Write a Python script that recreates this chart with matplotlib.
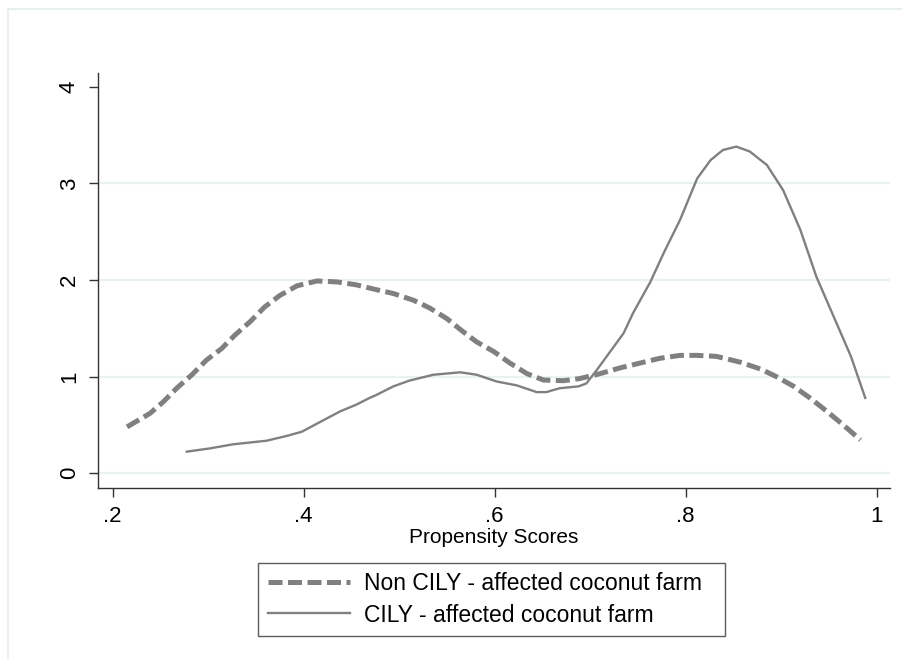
import matplotlib
matplotlib.use("Agg")
import matplotlib.pyplot as plt
from matplotlib.lines import Line2D

plt.rcParams['font.family'] = ['Liberation Sans', 'DejaVu Sans']

# Non CILY - affected coconut farm (dashed)
non_x = [0.215, 0.239, 0.253, 0.267, 0.283, 0.298, 0.314, 0.328, 0.344, 0.359, 0.375,
         0.393, 0.414, 0.435, 0.455, 0.476, 0.494, 0.515, 0.532, 0.550, 0.565, 0.581,
         0.599, 0.616, 0.634, 0.651, 0.672, 0.689, 0.710, 0.731, 0.752, 0.773, 0.794,
         0.812, 0.832, 0.857, 0.878, 0.895, 0.913, 0.930, 0.948, 0.965, 0.983]
non_y = [0.48, 0.62, 0.74, 0.88, 1.02, 1.17, 1.29, 1.43, 1.57, 1.72, 1.84,
         1.94, 1.99, 1.98, 1.95, 1.90, 1.86, 1.79, 1.71, 1.60, 1.48, 1.36,
         1.26, 1.14, 1.03, 0.965, 0.958, 0.98, 1.03, 1.09, 1.14, 1.19, 1.22,
         1.22, 1.21, 1.15, 1.08, 1.00, 0.90, 0.78, 0.64, 0.50, 0.345]

# CILY - affected coconut farm (solid)
cily_x = [0.2775, 0.302, 0.326, 0.361, 0.382, 0.398, 0.417, 0.438, 0.455, 0.469, 0.476,
          0.494, 0.511, 0.536, 0.564, 0.581, 0.602, 0.623, 0.644, 0.654, 0.668, 0.688,
          0.696, 0.707, 0.721, 0.735, 0.745, 0.763, 0.777, 0.794, 0.812, 0.826, 0.839,
          0.853, 0.867, 0.885, 0.902, 0.920, 0.937, 0.955, 0.973, 0.988]
cily_y = [0.224, 0.258, 0.30, 0.337, 0.386, 0.43, 0.53, 0.64, 0.71, 0.78, 0.81,
          0.90, 0.96, 1.02, 1.045, 1.02, 0.95, 0.91, 0.84, 0.84, 0.88, 0.90,
          0.93, 1.07, 1.26, 1.45, 1.66, 1.98, 2.28, 2.62, 3.05, 3.24, 3.345,
          3.38, 3.33, 3.19, 2.93, 2.52, 2.03, 1.62, 1.21, 0.78]

x_ticks = [0.2, 0.4, 0.6, 0.8, 1.0]
x_ticklabels = ['.2', '.4', '.6', '.8', '1']
y_ticks = [0, 1, 2, 3, 4]
y_ticklabels = ['0', '1', '2', '3', '4']
grid_y = [0, 1, 2, 3]
labels = ['Non CILY - affected coconut farm', 'CILY - affected coconut farm']

W, H = 902, 659
fig = plt.figure(figsize=(W / 100, H / 100), dpi=100)
fig.patch.set_facecolor('white')

# outer graph-region frame (only top/left visible)
frame_c = '#e3ecee'
fig.add_artist(Line2D([8 / W, 8 / W], [0, 1 - 9 / H], color=frame_c, lw=1.2, transform=fig.transFigure))
fig.add_artist(Line2D([8 / W, 1], [1 - 9 / H, 1 - 9 / H], color=frame_c, lw=1.2, transform=fig.transFigure))

left, right, top, bottom = 98, 890, 73, 488
ax = fig.add_axes([left / W, 1 - bottom / H, (right - left) / W, (bottom - top) / H])

x0_px, x1_px = 112.7, 876.7
ppx = (x1_px - x0_px) / 0.8
ax.set_xlim(0.2 - (x0_px - left) / ppx, 1.0 + (right - x1_px) / ppx)
y0_px, y4_px = 473.3, 86.7
ppy = (y0_px - y4_px) / 4
ax.set_ylim(-(bottom - y0_px) / ppy, 4 + (y4_px - top) / ppy)

for g in grid_y:
    ax.axhline(g, color='#eaf1f3', lw=1.6, zorder=0)

gray = '#808080'
ax.plot(non_x, non_y, color=gray, lw=3.6, linestyle=(0, (2.8, 1.1)),
        solid_capstyle='butt', dash_capstyle='butt', solid_joinstyle='round',
        label=labels[0], zorder=3)
ax.plot(cily_x, cily_y, color=gray, lw=1.7, solid_joinstyle='round',
        label=labels[1], zorder=3)

for s in ['top', 'right']:
    ax.spines[s].set_visible(False)
for s in ['left', 'bottom']:
    ax.spines[s].set_color('#333333')
    ax.spines[s].set_linewidth(1.0)

ax.set_xticks(x_ticks)
ax.set_xticklabels(x_ticklabels)
ax.set_yticks(y_ticks)
ax.set_yticklabels(y_ticklabels, rotation=90, va='center')
ax.tick_params(axis='both', direction='out', length=6.5, width=1.0, color='#333333',
               labelsize=16, labelcolor='black', pad=6.5)
ax.set_xlabel('Propensity Scores', fontsize=15, labelpad=1)

leg = ax.legend(loc='center', bbox_to_anchor=(258 / W, 1 - 637 / H, 467 / W, 75 / H),
                bbox_transform=fig.transFigure, mode='expand', fontsize=16.5,
                handlelength=3.6, handletextpad=0.62, borderpad=0.42, labelspacing=0.35,
                frameon=True, fancybox=False, borderaxespad=0)
leg.get_frame().set_edgecolor('#333333')
leg.get_frame().set_linewidth(1.0)

fig.savefig('out.png', dpi=100, facecolor='white')
